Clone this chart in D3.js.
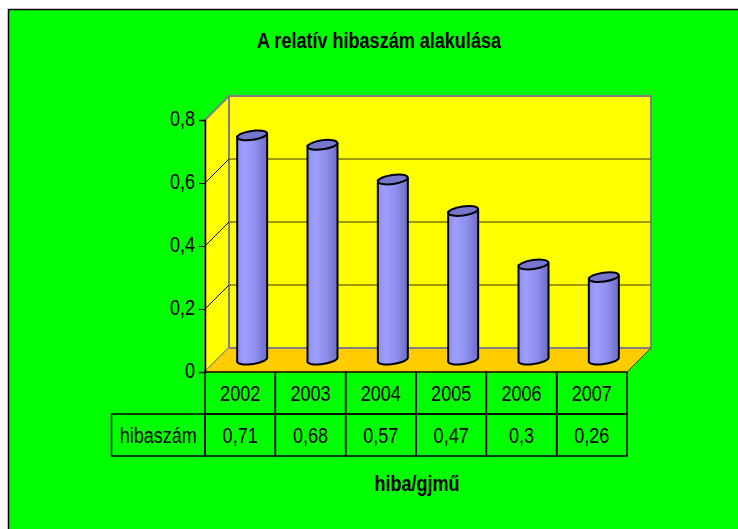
<!DOCTYPE html>
<html>
<head>
<meta charset="utf-8">
<script src="https://cdn.jsdelivr.net/npm/d3@7"></script>
<style>
  body { margin: 0; background: #ffffff; }
  svg text { font-family: 'Liberation Sans', Arial, sans-serif; fill: #000; }
</style>
</head>
<body>
<script>
// chart data
var years = ["2002", "2003", "2004", "2005", "2006", "2007"];
var values = [0.71, 0.68, 0.57, 0.47, 0.3, 0.26];
var yTicks = [0, 0.2, 0.4, 0.6, 0.8];
var seriesName = "hibaszám";
var chartTitle = "A relatív hibaszám alakulása";
var axisTitle = "hiba/gjmű";

const width = 738, height = 529;
var plot = {left: 205, right: 627, top: 120, bottom: 372};
var depth = 24; // 3d offset of back wall
var narrow = 0.82; // squeeze text like a narrow font

var huLocale = d3.formatLocale({decimal: ",", thousands: " ", grouping: [3], currency: ["", " Ft"]});
var fmt = huLocale.format("~g");

var svg = d3.select("body").append("svg")
    .attr("width", width)
    .attr("height", height);

var defs = svg.append("defs");
var grad = defs.append("linearGradient").attr("id", "cyl").attr("x1", "0%").attr("x2", "100%");
grad.append("stop").attr("offset", "0%").attr("stop-color", "#8e8eee");
grad.append("stop").attr("offset", "25%").attr("stop-color", "#9e9eff");
grad.append("stop").attr("offset", "60%").attr("stop-color", "#8f8fee");
grad.append("stop").attr("offset", "100%").attr("stop-color", "#6e6ec4");

// green chart area
svg.append("rect")
    .attr("x", 8.5).attr("y", 9.5)
    .attr("width", width).attr("height", height)
    .style("fill", "#00ff00")
    .style("stroke", "#000")
    .style("stroke-width", 1.5);

var x = d3.scaleBand().domain(years).range([plot.left, plot.right]);
var y = d3.scaleLinear().domain([0, 0.8]).range([plot.bottom, plot.top]);

// back wall
svg.append("rect")
    .attr("x", plot.left + depth).attr("y", plot.top - depth)
    .attr("width", plot.right - plot.left).attr("height", plot.bottom - plot.top)
    .style("fill", "#ffff00")
    .style("stroke", "#808080")
    .style("stroke-width", 2);

// left wall
svg.append("path")
    .attr("d", "M" + plot.left + "," + plot.top + " L" + (plot.left + depth) + "," + (plot.top - depth) +
      " L" + (plot.left + depth) + "," + (plot.bottom - depth) + " L" + plot.left + "," + plot.bottom + " Z")
    .style("fill", "#ffff00")
    .style("stroke", "#808080")
    .style("stroke-width", 2);

// gridlines
var grid = yTicks.filter(function(d) { return d > 0 && d < 0.8; });
svg.selectAll(".gridBack")
    .data(grid)
    .enter().append("line")
    .attr("x1", plot.left + depth).attr("x2", plot.right + depth)
    .attr("y1", function(d) { return y(d) - depth; })
    .attr("y2", function(d) { return y(d) - depth; })
    .style("stroke", "#7a7a00")
    .style("stroke-width", 1.5);
svg.selectAll(".gridSide")
    .data(grid)
    .enter().append("line")
    .attr("x1", plot.left).attr("x2", plot.left + depth)
    .attr("y1", function(d) { return y(d); })
    .attr("y2", function(d) { return y(d) - depth; })
    .style("stroke", "#000")
    .style("stroke-width", 1);

// floor
svg.append("path")
    .attr("d", "M" + plot.left + "," + plot.bottom + " L" + (plot.left + depth) + "," + (plot.bottom - depth) +
      " L" + (plot.right + depth) + "," + (plot.bottom - depth) + " L" + plot.right + "," + plot.bottom + " Z")
    .style("fill", "#ffcc00");
svg.append("line")
    .attr("x1", plot.left + depth).attr("x2", plot.right + depth)
    .attr("y1", plot.bottom - depth).attr("y2", plot.bottom - depth)
    .style("stroke", "#808080").style("stroke-width", 2);
svg.append("line")
    .attr("x1", plot.right).attr("x2", plot.right + depth)
    .attr("y1", plot.bottom).attr("y2", plot.bottom - depth)
    .style("stroke", "#404000").style("stroke-width", 1);

// cylinders
var half = depth / 2, bw = 30, ry = 4.5;
var bars = svg.selectAll(".bar")
    .data(values)
    .enter().append("g")
    .attr("class", "bar");

function cx(d, i) { return x(years[i]) + x.bandwidth() / 2 + half; }

bars.append("path")
    .attr("d", function(d, i) {
      var x0 = cx(d, i) - bw / 2, x1 = cx(d, i) + bw / 2;
      var yt = y(d) - half, yb = y(0) - half + 1;
      return "M" + x0 + "," + yt + " L" + x0 + "," + yb +
        " A" + (bw / 2) + "," + ry + " -8 0 0 " + x1 + "," + (yb - 3) +
        " L" + x1 + "," + (yt - 2) + " Z";
    })
    .style("fill", "url(#cyl)")
    .style("stroke", "#000")
    .style("stroke-width", 2);

bars.append("ellipse")
    .attr("cx", function(d, i) { return cx(d, i); })
    .attr("cy", function(d) { return y(d) - half - 1; })
    .attr("rx", bw / 2)
    .attr("ry", ry)
    .attr("transform", function(d, i) { return "rotate(-8," + cx(d, i) + "," + (y(d) - half - 1) + ")"; })
    .style("fill", "#7676ca")
    .style("stroke", "#000")
    .style("stroke-width", 2);

// y axis
var yAxis = svg.append("g")
    .attr("transform", "translate(" + plot.left + ",0)")
    .call(d3.axisLeft(y).tickValues(yTicks).tickFormat(fmt).tickSize(6).tickPadding(4));
yAxis.select(".domain").style("stroke", "#000").style("stroke-width", 1.5);
yAxis.selectAll("line").style("stroke", "#000");
yAxis.selectAll("text").style("font-size", "22px").attr("dy", "0.27em").style("fill", "#000");
yAxis.attr("font-family", null).attr("font-size", null);

// data table
var rowH = 42;
var table = svg.append("g").attr("class", "table");
years.forEach(function(yr, i) {
  table.append("rect")
    .attr("x", x(yr)).attr("y", plot.bottom)
    .attr("width", x.bandwidth()).attr("height", rowH)
    .style("fill", "none").style("stroke", "#000").style("stroke-width", 1.5);
  table.append("rect")
    .attr("x", x(yr)).attr("y", plot.bottom + rowH)
    .attr("width", x.bandwidth()).attr("height", rowH)
    .style("fill", "none").style("stroke", "#000").style("stroke-width", 1.5);
  table.append("text")
    .attr("x", x(yr) + x.bandwidth() / 2).attr("y", plot.bottom + rowH / 2)
    .attr("text-anchor", "middle").attr("dy", "0.36em")
    .style("font-size", "22px")
    .text(yr);
  table.append("text")
    .attr("x", x(yr) + x.bandwidth() / 2).attr("y", plot.bottom + rowH * 1.5)
    .attr("text-anchor", "middle").attr("dy", "0.36em")
    .style("font-size", "22px")
    .text(fmt(values[i]));
});
table.append("rect")
    .attr("x", 111.5).attr("y", plot.bottom + rowH)
    .attr("width", plot.left - 111.5).attr("height", rowH)
    .style("fill", "none").style("stroke", "#000").style("stroke-width", 1.5);
table.append("text")
    .attr("x", (111.5 + plot.left) / 2).attr("y", plot.bottom + rowH * 1.5)
    .attr("text-anchor", "middle").attr("dy", "0.36em")
    .style("font-size", "22px")
    .text(seriesName);

// titles
svg.append("text")
    .attr("x", 379).attr("y", 47.5)
    .attr("text-anchor", "middle")
    .style("font-size", "22px").style("font-weight", "bold")
    .text(chartTitle);
svg.append("text")
    .attr("x", (plot.left + plot.right) / 2 + 1).attr("y", 491)
    .attr("text-anchor", "middle")
    .style("font-size", "22px").style("font-weight", "bold")
    .text(axisTitle);

// squeeze every label to look like the narrow font of the original
svg.selectAll("text").each(function() {
  var len = this.getComputedTextLength();
  d3.select(this).attr("textLength", len * narrow).attr("lengthAdjust", "spacingAndGlyphs");
});
</script>
</body>
</html>
